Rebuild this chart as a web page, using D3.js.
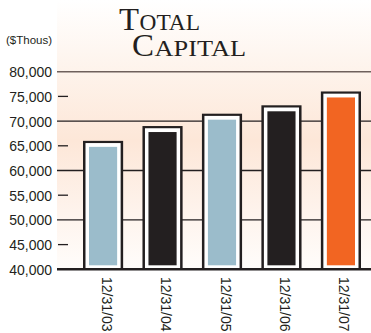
<!DOCTYPE html>
<html>
<head>
<meta charset="utf-8">
<script src="https://cdn.jsdelivr.net/npm/d3@7"></script>
<style>
  html, body { margin: 0; padding: 0; background: #ffffff; }
  svg { display: block; }
</style>
</head>
<body>
<svg id="chart" width="371" height="333"></svg>
<script>
// Year-end dates and total capital, in thousands of dollars
const periods = ["12/31/03", "12/31/04", "12/31/05", "12/31/06", "12/31/07"];
const capital = [66000, 69000, 71500, 73200, 76000];
const barColors = ["#9bbccb", "#231f20", "#9bbccb", "#231f20", "#f26522"];
const majorTicks = [40000, 50000, 60000, 70000, 80000];
const minorTicks = [45000, 55000, 65000, 75000];
const yTickLabels = [40000, 45000, 50000, 55000, 60000, 65000, 70000, 75000, 80000];

const svg = d3.select("#chart");
const plotLeft = 57, plotRight = 371;
const ink = "#231f20";

const y = d3.scaleLinear().domain([40000, 80000]).range([269.3, 71.7]);
const x = d3.scaleBand().domain(periods).range([83, 361]).paddingInner(0.325).paddingOuter(0);

// Soft peach backdrop behind the plot
const defs = svg.append("defs");
const grad = defs.append("linearGradient").attr("id", "bgGrad")
  .attr("x1", 0).attr("y1", 0).attr("x2", 0).attr("y2", 1);
grad.append("stop").attr("offset", "0%").attr("stop-color", "#ffffff");
grad.append("stop").attr("offset", "20%").attr("stop-color", "#fef6f0");
grad.append("stop").attr("offset", "52%").attr("stop-color", "#fde7d8");
grad.append("stop").attr("offset", "78%").attr("stop-color", "#fef3ec");
grad.append("stop").attr("offset", "100%").attr("stop-color", "#fffdfb");
svg.append("rect").attr("x", plotLeft).attr("y", 0)
  .attr("width", plotRight - plotLeft).attr("height", 270)
  .attr("fill", "url(#bgGrad)");

// Title in small caps: large initial, smaller remaining capitals
const serif = "'Liberation Serif', 'Times New Roman', serif";
const titleLines = [
  { init: "T", rest: "OTAL", x: 119, y: 29.5, initW: 20, restW: 61 },
  { init: "C", rest: "APITAL", x: 132, y: 55.5, initW: 22, restW: 92 }
];
const title = svg.append("g").attr("font-family", serif).attr("fill", ink);
titleLines.forEach(l => {
  title.append("text").attr("x", l.x).attr("y", l.y).attr("font-size", 32)
    .attr("textLength", l.initW).attr("lengthAdjust", "spacingAndGlyphs").text(l.init);
  title.append("text").attr("x", l.x + l.initW + 0.5).attr("y", l.y).attr("font-size", 23)
    .attr("textLength", l.restW - 0.5).attr("lengthAdjust", "spacingAndGlyphs").text(l.rest);
});

// Unit label
svg.append("text").attr("x", 6).attr("y", 44)
  .attr("font-family", "'Liberation Sans', Arial, sans-serif")
  .attr("font-size", 11.5).attr("fill", ink).text("($Thous)");

// Gridlines at the major ticks
svg.append("g").selectAll("line").data(majorTicks.filter(d => d > 40000)).join("line")
  .attr("x1", plotLeft).attr("x2", plotRight)
  .attr("y1", d => y(d)).attr("y2", d => y(d))
  .attr("stroke", d => d === 80000 ? "#6e605c" : ink)
  .attr("stroke-width", d => d === 80000 ? 1.4 : 1.3);

// Short dashes at the minor ticks
svg.append("g").selectAll("line").data(minorTicks).join("line")
  .attr("x1", plotLeft + 1).attr("x2", plotLeft + 11)
  .attr("y1", d => y(d)).attr("y2", d => y(d))
  .attr("stroke", ink).attr("stroke-width", 1.3);

// Y axis labels
const yAxis = d3.axisLeft(y).tickValues(yTickLabels).tickSize(0).tickPadding(0)
  .tickFormat(d3.format(","));
const yg = svg.append("g").attr("transform", "translate(52,0)").call(yAxis);
yg.select(".domain").remove();
yg.selectAll("text").attr("font-family", "'Liberation Sans', Arial, sans-serif")
  .attr("font-size", 14).attr("fill", ink).attr("dy", "0.36em");

// Framed bars: dark outline, white mat, colored core
const bars = svg.append("g").selectAll("g").data(periods).join("g");
const base = y(40000);
bars.append("rect")
  .attr("x", d => x(d)).attr("y", (d, i) => y(capital[i]))
  .attr("width", x.bandwidth()).attr("height", (d, i) => base - y(capital[i]))
  .attr("fill", ink);
bars.append("rect")
  .attr("x", d => x(d) + 2.5).attr("y", (d, i) => y(capital[i]) + 2.2)
  .attr("width", x.bandwidth() - 5).attr("height", (d, i) => base - y(capital[i]) - 2.2)
  .attr("fill", "#ffffff");
bars.append("rect")
  .attr("x", d => x(d) + 6).attr("y", (d, i) => y(capital[i]) + 6)
  .attr("width", x.bandwidth() - 12).attr("height", (d, i) => base - y(capital[i]) - 10)
  .attr("fill", (d, i) => barColors[i]);

// Baseline
svg.append("line").attr("x1", plotLeft).attr("x2", plotRight)
  .attr("y1", base).attr("y2", base).attr("stroke", ink).attr("stroke-width", 2.6);

// Rotated date labels
svg.append("g").selectAll("text").data(periods).join("text")
  .attr("transform", d => `translate(${x(d) + x.bandwidth() / 2 - 1.5},277) rotate(90)`)
  .attr("font-family", "'Liberation Sans', Arial, sans-serif")
  .attr("font-size", 14).attr("fill", ink)
  .text(d => d);
</script>
</body>
</html>
